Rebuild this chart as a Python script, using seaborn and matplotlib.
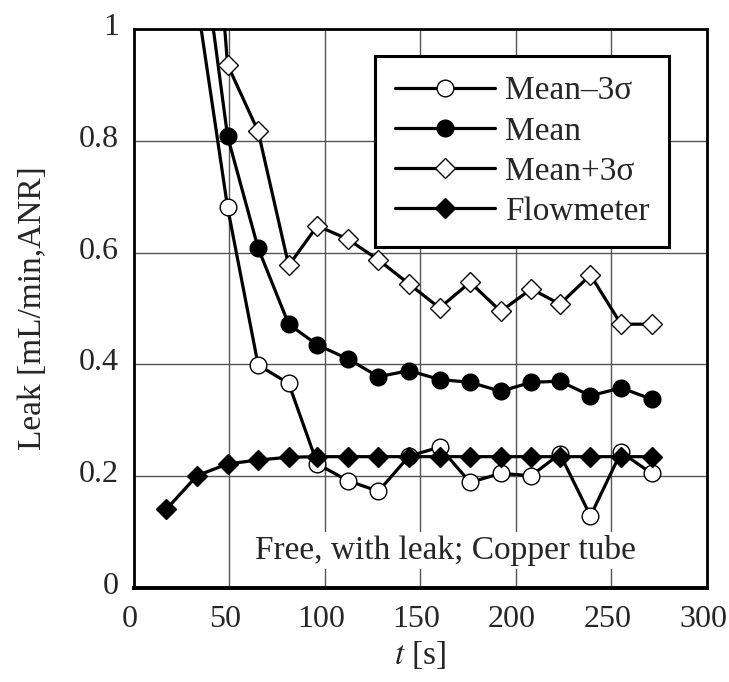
import numpy as np
import pandas as pd
import matplotlib
matplotlib.use('Agg')
import matplotlib.pyplot as plt
import matplotlib.transforms as mtransforms
import seaborn as sns

# tempos de amostragem [s]
t = [17, 33, 49, 65, 81, 96, 112, 128, 144, 160, 176, 192, 208, 223, 239, 255, 271]

# vazamento [mL/min,ANR]
mean_minus = [np.nan, 1.05, 0.681, 0.399, 0.366, 0.222, 0.192, 0.173, 0.236, 0.252,
              0.189, 0.205, 0.201, 0.240, 0.129, 0.243, 0.205]
mean = [np.nan, 1.22, 0.808, 0.608, 0.472, 0.435, 0.410, 0.378, 0.389, 0.373,
        0.368, 0.352, 0.368, 0.370, 0.344, 0.358, 0.338]
mean_plus = [np.nan, 1.63, 0.936, 0.817, 0.577, 0.648, 0.624, 0.587, 0.544, 0.501,
             0.547, 0.495, 0.535, 0.508, 0.560, 0.472, 0.472]
flowmeter = [0.141, 0.201, 0.222, 0.229, 0.234, 0.235, 0.235, 0.235, 0.235, 0.235,
             0.235, 0.235, 0.235, 0.235, 0.235, 0.235, 0.235]

series = [
    ('Mean–3σ', mean_minus, 'o', 'white'),
    ('Mean', mean, 'o', 'black'),
    ('Mean+3σ', mean_plus, 'D', 'white'),
    ('Flowmeter', flowmeter, 'D', 'black'),
]

sns.set_style('white')
plt.rcParams['font.family'] = ['Liberation Serif', 'DejaVu Serif']
plt.rcParams['mathtext.fontset'] = 'stix'

fig = plt.figure(figsize=(7.29, 6.82), dpi=100)
ax = fig.add_axes([0.1838, 0.1378, 0.786, 0.8196])

for nome, valores, mk, face in series:
    df = pd.DataFrame({'t': t, 'v': valores}).dropna()
    ms = 12 if mk == 'o' else 10.5
    sns.lineplot(data=df, x='t', y='v', ax=ax, color='black', lw=2.3,
                 marker=mk, markersize=ms, markerfacecolor=face,
                 markeredgecolor='black', markeredgewidth=1, label=nome)

ax.set_xlim(0, 300)
ax.set_ylim(0, 1)
ax.set_xticks([0, 50, 100, 150, 200, 250, 300])
ax.set_yticks([0, 0.2, 0.4, 0.6, 0.8, 1.0])
ax.set_yticklabels(['0', '0.2', '0.4', '0.6', '0.8', '1'])
ax.grid(True, color='#555555', lw=1)
ax.set_axisbelow(True)
ax.tick_params(length=0, labelsize=23)
ax.tick_params(axis='x', pad=12)
ax.tick_params(axis='y', pad=11)

# rótulos levemente deslocados como no original
desl_x = mtransforms.ScaledTranslation(-4 / 100, 0, fig.dpi_scale_trans)
desl_y = mtransforms.ScaledTranslation(0, 5 / 100, fig.dpi_scale_trans)
for lbl in ax.get_xticklabels():
    lbl.set_transform(lbl.get_transform() + desl_x)
for lbl in ax.get_yticklabels():
    lbl.set_transform(lbl.get_transform() + desl_y)

for lado in ['left', 'right', 'top']:
    ax.spines[lado].set_linewidth(2)
    ax.spines[lado].set_color('black')
ax.spines['bottom'].set_linewidth(2.8)
ax.spines['bottom'].set_color('black')

ax.set_xlabel('$t$ [s]', fontsize=24, labelpad=4)
ax.set_ylabel('Leak [mL/min,ANR]', fontsize=24, labelpad=22)

ax.text(263, 0.067, 'Free, with leak; Copper tube', fontsize=24, ha='right', va='center',
        bbox=dict(facecolor='white', edgecolor='none', pad=2), zorder=3)

leg = ax.legend(loc='upper right', bbox_to_anchor=(0.934, 0.952), borderaxespad=0,
                fontsize=24, frameon=True, fancybox=False, edgecolor='black',
                handlelength=3.0, handletextpad=0.3, labelspacing=0.29, borderpad=0.6)
leg.get_frame().set_linewidth(2.2)
leg.get_frame().set_alpha(1)
leg.set_zorder(5)

plt.savefig('out.png', dpi=100)
